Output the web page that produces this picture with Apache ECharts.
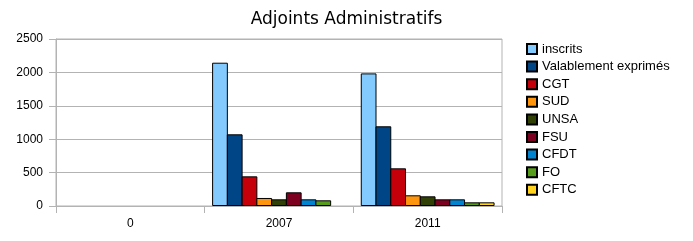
<!DOCTYPE html>
<html>
<head>
<meta charset="utf-8">
<script src="https://cdn.jsdelivr.net/npm/echarts@6/dist/echarts.min.js"></script>
<style>html,body{margin:0;padding:0;background:#fff;}#c{width:693px;height:241px;}</style>
</head>
<body>
<div id="c"></div>
<script>
const categories = ['0', '2007', '2011'];
const seriesNames = ['inscrits', 'Valablement exprimés', 'CGT', 'SUD', 'UNSA', 'FSU', 'CFDT', 'FO', 'CFTC'];
const inscrits = ['-', 2145, 1985];
const valablement = ['-', 1073, 1193];
const cgt = ['-', 444, 564];
const sud = ['-', 120, 160];
const unsa = ['-', 100, 145];
const fsu = ['-', 205, 100];
const cfdt = ['-', 100, 100];
const fo = ['-', 85, 55];
const cftc = ['-', '-', 55];
const yTicks = [0, 500, 1000, 1500, 2000, 2500];
const colors = ['#83caff', '#004586', '#c5000b', '#ff950e', '#314004', '#7e0021', '#0084d1', '#579d1c', '#ffd320'];
const allData = [inscrits, valablement, cgt, sud, unsa, fsu, cfdt, fo, cftc];

const chart = echarts.init(document.getElementById('c'), null, {renderer: 'canvas'});
chart.setOption({
  animation: false,
  backgroundColor: '#fff',
  color: colors,
  title: {
    text: 'Adjoints Administratifs',
    left: 'center',
    top: 6,
    textStyle: {fontFamily: 'DejaVu Sans', fontSize: 17, fontWeight: 'normal', color: '#000'}
  },
  legend: {
    orient: 'vertical',
    left: 526,
    top: 42.5,
    padding: 0,
    itemWidth: 10,
    itemHeight: 10,
    itemGap: 4.6,
    icon: 'rect',
    data: seriesNames,
    textStyle: {fontFamily: 'Liberation Sans', fontSize: 13, color: '#000'}
  },
  grid: {
    left: 56, right: 191, top: 39, bottom: 35,
    show: true, borderColor: '#b3b3b3', borderWidth: 1
  },
  xAxis: {
    type: 'category',
    data: categories,
    axisLine: {lineStyle: {color: '#b3b3b3'}},
    axisTick: {show: true, length: 7, lineStyle: {color: '#b3b3b3'}},
    axisLabel: {margin: 12, fontFamily: 'Liberation Sans', fontSize: 12, color: '#000'}
  },
  yAxis: {
    type: 'value',
    min: yTicks[0],
    max: yTicks[yTicks.length - 1],
    interval: 500,
    axisLine: {show: true, lineStyle: {color: '#b3b3b3'}},
    axisTick: {show: true, length: 7, lineStyle: {color: '#b3b3b3'}},
    splitLine: {lineStyle: {color: '#b3b3b3'}},
    axisLabel: {margin: 13, fontFamily: 'Liberation Sans', fontSize: 12, color: '#000', formatter: v => String(v)}
  },
  series: seriesNames.map((n, i) => ({
    name: n,
    type: 'bar',
    data: allData[i],
    barGap: '-6.3%',
    barCategoryGap: '10%',
    itemStyle: {borderColor: '#000', borderWidth: 1}
  }))
});
</script>
</body>
</html>
